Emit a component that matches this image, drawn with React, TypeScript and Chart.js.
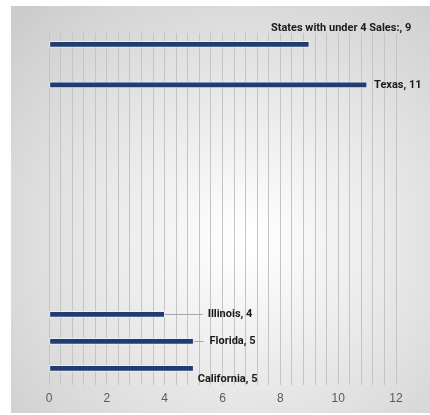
import React, { useEffect, useRef } from "react";
import { Chart, registerables } from "chart.js";

Chart.register(...registerables);

const states = ["California", "Florida", "Illinois", "Texas", "States with under 4 Sales:"];
const sales = [5, 5, 4, 11, 9];
const rowY = [1, 2, 3, 11.5, 13];
const xTickLabels = [0, 2, 4, 6, 8, 10, 12];

const LABEL_FONT = "bold 11px 'Roboto', sans-serif";

const bgPlugin = {
  id: "bgPlugin",
  beforeDraw(chart: any) {
    const ctx = chart.ctx;
    ctx.save();
    const g = ctx.createRadialGradient(245, 240, 10, 245, 240, 320);
    g.addColorStop(0, "#ffffff");
    g.addColorStop(1, "#cccccc");
    ctx.fillStyle = g;
    ctx.fillRect(11, 6, 419, 407);
    ctx.restore();
  },
};

const labelPlugin = {
  id: "labelPlugin",
  afterDatasetsDraw(chart: any) {
    const ctx = chart.ctx;
    const meta = chart.getDatasetMeta(0);
    const layout = [
      { dx: 34, dy: 11, align: "center", leader: 0 },
      { dx: 16, dy: 0, align: "left", leader: 10 },
      { dx: 43, dy: 0, align: "left", leader: 38 },
      { dx: 7, dy: 0, align: "left", leader: 0 },
      { dx: 102, dy: -16, align: "right", leader: 0 },
    ];
    ctx.save();
    ctx.font = LABEL_FONT;
    ctx.textBaseline = "middle";
    meta.data.forEach((bar: any, i: number) => {
      const l = layout[i];
      const x = bar.x;
      const y = bar.y;
      if (l.leader) {
        ctx.strokeStyle = "#a6a6a6";
        ctx.lineWidth = 1;
        ctx.beginPath();
        ctx.moveTo(x, Math.round(y) + 0.5);
        ctx.lineTo(x + l.leader, Math.round(y) + 0.5);
        ctx.stroke();
      }
      ctx.fillStyle = "#1a1a1a";
      ctx.textAlign = l.align;
      ctx.fillText(`${states[i]}, ${sales[i]}`, x + l.dx, y + l.dy);
    });
    ctx.restore();
  },
};

export default function App() {
  const ref = useRef<HTMLCanvasElement>(null);
  useEffect(() => {
    if (!ref.current) return;
    const chart = new Chart(ref.current, {
      type: "bar",
      data: {
        datasets: [
          {
            data: sales.map((v, i) => ({ x: v, y: rowY[i] })),
            backgroundColor: "#203d72",
            borderColor: "rgba(235,240,250,0.9)",
            borderWidth: 1,
            borderSkipped: false,
            barThickness: 6,
          },
        ],
      },
      options: {
        indexAxis: "y",
        animation: false,
        responsive: false,
        layout: { padding: { left: 49, right: 34, top: 33, bottom: 2 } },
        plugins: { legend: { display: false }, tooltip: { enabled: false } },
        scales: {
          x: {
            type: "linear",
            min: 0,
            max: 12,
            offset: false,
            ticks: {
              stepSize: 0.4,
              autoSkip: false,
              maxRotation: 0,
              padding: 7,
              color: "#595959",
              font: { family: "'Liberation Sans', sans-serif", size: 12 },
              callback: (v: any) => {
                const n = Number(v);
                const hit = xTickLabels.find((t) => Math.abs(t - n) < 1e-6);
                return hit === undefined ? "" : String(hit);
              },
            },
            grid: { color: "#c4c4c4", lineWidth: 1, drawTicks: false, offset: false },
            border: { display: false },
          },
          y: {
            type: "linear",
            min: 0.4,
            max: 13.42,
            offset: false,
            grid: { offset: false },
            display: false,
          },
        },
      },
      plugins: [bgPlugin, labelPlugin],
    });
    return () => chart.destroy();
  }, []);
  return (
    <div style={{ position: "absolute", left: 0, top: 0, width: 430, height: 415 }}>
      <canvas ref={ref} width={430} height={415} style={{ display: "block" }} />
    </div>
  );
}
